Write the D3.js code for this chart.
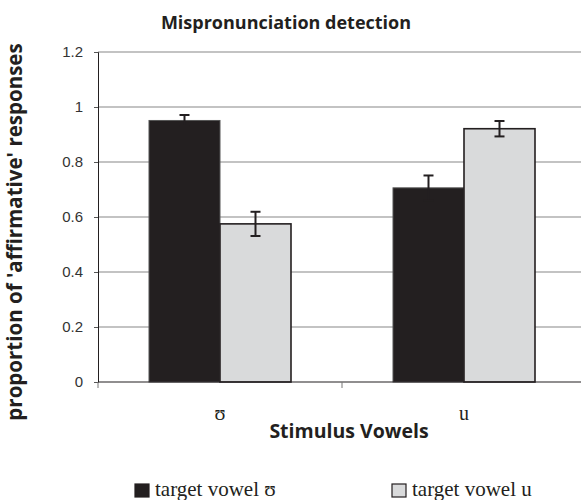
<!DOCTYPE html>
<html>
<head>
<meta charset="utf-8">
<script src="https://cdn.jsdelivr.net/npm/d3@7"></script>
<style>
  body { margin: 0; background: #fff; }
  svg { display: block; }
</style>
</head>
<body>
<svg id="chart" width="581" height="500"></svg>
<script>
var categories = ["\u028A", "u"];
var seriesNames = ["target vowel \u028A", "target vowel u"];
var seriesColors = ["#231f20", "#d9dadb"];
// mean proportion for each series, by category
var targetUpsilon = [0.951, 0.706];
var targetU = [0.575, 0.921];
// half-length of the error bars
var errUpsilon = [0.02, 0.045];
var errU = [0.044, 0.028];
var yTicks = [0, 0.2, 0.4, 0.6, 0.8, 1, 1.2];

var svg = d3.select("#chart");
var mLeft = 98, mTop = 52, plotH = 330, bandW = 244;

var x = d3.scaleBand()
    .domain(categories)
    .range([mLeft, mLeft + bandW * categories.length]);

var xs = d3.scaleBand()
    .domain([0, 1])
    .range([0, bandW])
    .paddingOuter(0.5 * 102 / 71);

var y = d3.scaleLinear()
    .domain([0, 1.2])
    .range([mTop + plotH, mTop]);

// gridlines
svg.append("g")
    .selectAll("line")
    .data(yTicks.slice(1))
    .enter()
    .append("line")
    .attr("x1", mLeft)
    .attr("x2", 581)
    .attr("y1", d => y(d))
    .attr("y2", d => y(d))
    .attr("stroke", "#878787")
    .attr("stroke-width", 1);

// y axis
var yAxis = svg.append("g")
    .attr("transform", "translate(" + mLeft + ",0)")
    .call(d3.axisLeft(y).tickValues(yTicks).tickFormat(d => d).tickSize(4).tickPadding(11));
yAxis.select(".domain").attr("stroke", "#231f20");
yAxis.selectAll(".tick line").attr("stroke", "#555");
yAxis.selectAll("text")
    .attr("font-family", "Liberation Sans, Arial, sans-serif")
    .attr("font-size", "15px")
    .attr("fill", "#333");

var data = [];
categories.forEach(function(c, i) {
  data.push({cat: c, s: 0, v: targetUpsilon[i], e: errUpsilon[i]});
  data.push({cat: c, s: 1, v: targetU[i], e: errU[i]});
});

// bars
svg.append("g")
    .selectAll("rect")
    .data(data)
    .enter()
    .append("rect")
    .attr("x", d => x(d.cat) + xs(d.s))
    .attr("width", xs.bandwidth())
    .attr("y", d => y(d.v))
    .attr("height", d => y(0) - y(d.v))
    .attr("fill", d => seriesColors[d.s])
    .attr("stroke", d => d.s == 0 ? "#555" : "#231f20")
    .attr("stroke-width", d => d.s == 0 ? 1 : 1.6);

// error bars
var eb = svg.append("g")
    .selectAll("g")
    .data(data)
    .enter()
    .append("g")
    .attr("stroke", "#231f20")
    .attr("stroke-width", 2);
var cx = d => x(d.cat) + xs(d.s) + xs.bandwidth() / 2;
eb.append("line")
    .attr("x1", cx).attr("x2", cx)
    .attr("y1", d => y(d.v + d.e)).attr("y2", d => y(d.v - d.e));
eb.append("line")
    .attr("x1", d => cx(d) - 5).attr("x2", d => cx(d) + 5)
    .attr("y1", d => y(d.v + d.e)).attr("y2", d => y(d.v + d.e));
eb.append("line")
    .attr("x1", d => cx(d) - 5).attr("x2", d => cx(d) + 5)
    .attr("y1", d => y(d.v - d.e)).attr("y2", d => y(d.v - d.e));

// x axis
var xAxis = svg.append("g")
    .attr("transform", "translate(0," + y(0) + ")");
xAxis.append("line")
    .attr("x1", mLeft).attr("x2", 581)
    .attr("stroke", "#231f20").attr("stroke-width", 1.2);
xAxis.selectAll(".ct")
    .data(categories)
    .enter()
    .append("line")
    .attr("x1", d => x(d)).attr("x2", d => x(d))
    .attr("y1", 0).attr("y2", 6)
    .attr("stroke", "#777");
xAxis.selectAll("text")
    .data(categories)
    .enter()
    .append("text")
    .attr("x", d => x(d) + bandW / 2)
    .attr("y", 38)
    .attr("text-anchor", "middle")
    .attr("font-family", "Liberation Serif, Times New Roman, serif")
    .attr("font-size", "20px")
    .attr("fill", "#231f20")
    .text(d => d);

// titles
svg.append("text")
    .attr("x", 286)
    .attr("y", 29)
    .attr("text-anchor", "middle")
    .attr("font-family", "Open Sans, sans-serif")
    .attr("font-weight", "bold")
    .attr("font-size", "18px")
    .attr("fill", "#231f20")
    .text("Mispronunciation detection");

svg.append("text")
    .attr("x", 349)
    .attr("y", 438)
    .attr("text-anchor", "middle")
    .attr("font-family", "Open Sans, sans-serif")
    .attr("font-weight", "bold")
    .attr("font-size", "19.5px")
    .attr("fill", "#231f20")
    .text("Stimulus Vowels");

svg.append("text")
    .attr("transform", "translate(22,232) rotate(-90)")
    .attr("text-anchor", "middle")
    .attr("font-family", "Open Sans, sans-serif")
    .attr("font-weight", "bold")
    .attr("font-size", "20.5px")
    .attr("fill", "#231f20")
    .text("proportion of 'affirmative' responses");

// legend
var legX = [135, 392];
var leg = svg.append("g")
    .selectAll("g")
    .data(seriesNames)
    .enter()
    .append("g")
    .attr("transform", (d, i) => "translate(" + legX[i] + ",484)");
leg.append("rect")
    .attr("width", 14).attr("height", 13)
    .attr("fill", (d, i) => seriesColors[i])
    .attr("stroke", "#231f20")
    .attr("stroke-width", 1.2);
leg.append("text")
    .attr("x", 20)
    .attr("y", 12)
    .attr("font-family", "Liberation Serif, Times New Roman, serif")
    .attr("font-size", "21px")
    .attr("fill", "#231f20")
    .text(d => d);
</script>
</body>
</html>
